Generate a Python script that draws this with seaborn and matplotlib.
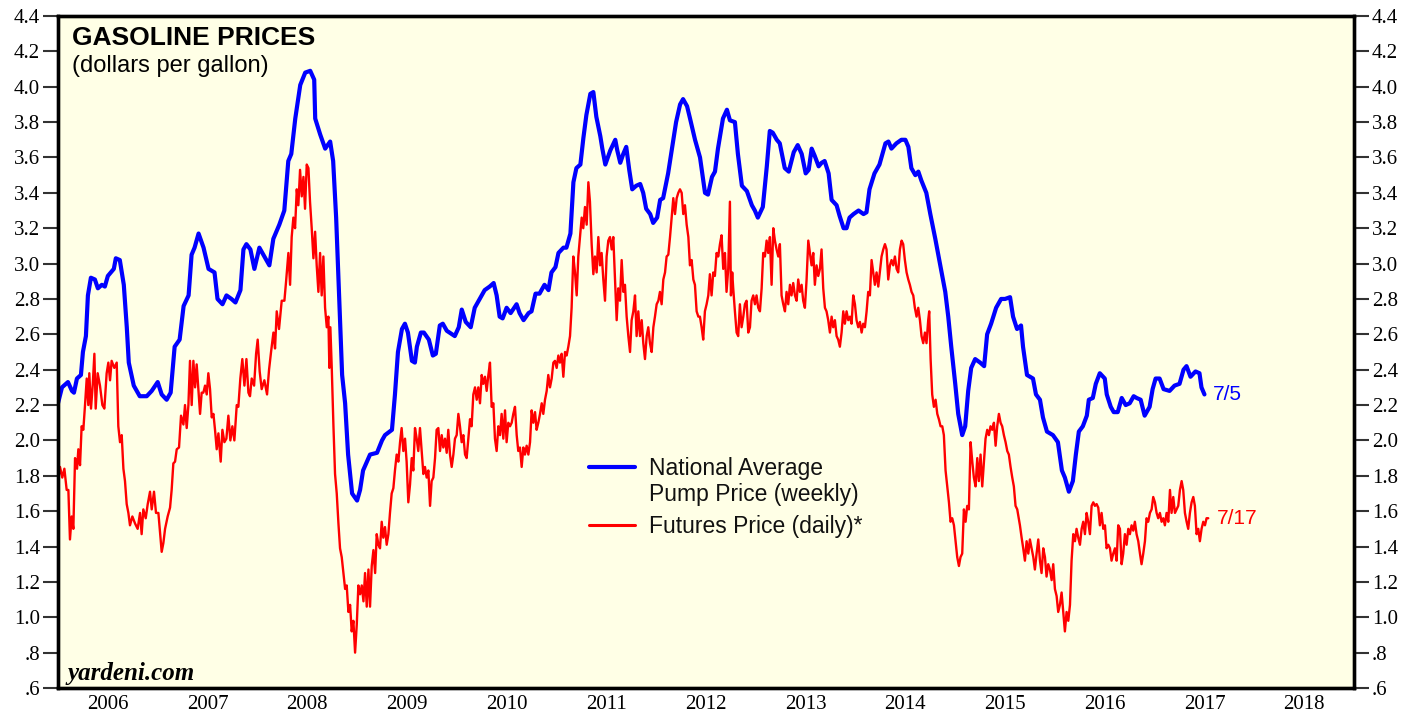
import numpy as np
import pandas as pd
import matplotlib
matplotlib.use("Agg")
import matplotlib.pyplot as plt
import seaborn as sns

# Weekly national average pump price (decimal year, $/gal)
pump_dates = [
    2006.00, 2006.04, 2006.10, 2006.14, 2006.16, 2006.19, 2006.23, 2006.25, 2006.28, 2006.30,
    2006.33, 2006.37, 2006.40, 2006.44, 2006.47, 2006.50, 2006.56, 2006.58, 2006.62, 2006.66,
    2006.69, 2006.71, 2006.76, 2006.82, 2006.89, 2006.94, 2007.00, 2007.04, 2007.09, 2007.13,
    2007.17, 2007.22, 2007.26, 2007.31, 2007.34, 2007.37, 2007.41, 2007.46, 2007.51, 2007.57,
    2007.60, 2007.65, 2007.69, 2007.74, 2007.78, 2007.83, 2007.86, 2007.89, 2007.93, 2007.97,
    2008.02, 2008.07, 2008.12, 2008.16, 2008.22, 2008.27, 2008.31, 2008.34, 2008.38, 2008.43,
    2008.48, 2008.53, 2008.57, 2008.58, 2008.63, 2008.68, 2008.73, 2008.76, 2008.79, 2008.82,
    2008.85, 2008.88, 2008.91, 2008.95, 2009.00, 2009.03, 2009.06, 2009.13, 2009.20, 2009.25,
    2009.28, 2009.35, 2009.38, 2009.41, 2009.45, 2009.48, 2009.51, 2009.55, 2009.58, 2009.60,
    2009.64, 2009.67, 2009.72, 2009.76, 2009.79, 2009.83, 2009.86, 2009.90, 2009.98, 2010.02,
    2010.05, 2010.09, 2010.14, 2010.18, 2010.23, 2010.28, 2010.33, 2010.37, 2010.40, 2010.43,
    2010.46, 2010.50, 2010.54, 2010.60, 2010.63, 2010.67, 2010.72, 2010.75, 2010.79, 2010.83,
    2010.88, 2010.92, 2010.95, 2010.99, 2011.02, 2011.07, 2011.10, 2011.14, 2011.17, 2011.20,
    2011.24, 2011.27, 2011.30, 2011.34, 2011.37, 2011.40, 2011.44, 2011.46, 2011.49, 2011.54,
    2011.59, 2011.61, 2011.64, 2011.67, 2011.70, 2011.73, 2011.76, 2011.80, 2011.84, 2011.87,
    2011.90, 2011.94, 2011.97, 2012.01, 2012.04, 2012.07, 2012.12, 2012.17, 2012.20, 2012.24,
    2012.27, 2012.31, 2012.34, 2012.39, 2012.44, 2012.49, 2012.52, 2012.56, 2012.59, 2012.62,
    2012.67, 2012.71, 2012.74, 2012.79, 2012.82, 2012.86, 2012.91, 2012.96, 2012.99, 2013.02,
    2013.07, 2013.11, 2013.14, 2013.17, 2013.21, 2013.24, 2013.29, 2013.33, 2013.38, 2013.42,
    2013.46, 2013.50, 2013.53, 2013.56, 2013.59, 2013.63, 2013.66, 2013.69, 2013.73, 2013.76,
    2013.81, 2013.84, 2013.88, 2013.91, 2013.94, 2013.98, 2014.03, 2014.08, 2014.11, 2014.14,
    2014.19, 2014.24, 2014.30, 2014.33, 2014.36, 2014.41, 2014.46, 2014.50, 2014.53, 2014.56,
    2014.60, 2014.63, 2014.66, 2014.71, 2014.75, 2014.80, 2014.85, 2014.90, 2014.93, 2014.96,
    2015.00, 2015.03, 2015.07, 2015.10, 2015.13, 2015.16, 2015.20, 2015.25, 2015.29, 2015.32,
    2015.36, 2015.41, 2015.46, 2015.50, 2015.55, 2015.58, 2015.62, 2015.66, 2015.68, 2015.72,
    2015.78, 2015.81, 2015.85, 2015.88, 2015.92, 2015.98, 2016.03, 2016.07, 2016.10, 2016.14,
    2016.18, 2016.21, 2016.24, 2016.28, 2016.32, 2016.34, 2016.38, 2016.41, 2016.45, 2016.50,
    2016.52, 2016.56, 2016.59, 2016.63, 2016.67, 2016.71, 2016.75, 2016.79, 2016.82, 2016.86,
    2016.90, 2016.95, 2016.98, 2017.01, 2017.05, 2017.09, 2017.15, 2017.20, 2017.25, 2017.29,
    2017.32, 2017.36, 2017.41, 2017.45, 2017.47, 2017.50,
]
pump_price = [
    2.21, 2.30, 2.33, 2.28, 2.27, 2.35, 2.37, 2.50, 2.59, 2.82,
    2.92, 2.91, 2.86, 2.88, 2.87, 2.93, 2.97, 3.03, 3.02, 2.88,
    2.64, 2.44, 2.31, 2.25, 2.25, 2.28, 2.33, 2.26, 2.23, 2.27,
    2.53, 2.57, 2.76, 2.82, 3.05, 3.09, 3.17, 3.09, 2.97, 2.95,
    2.80, 2.77, 2.82, 2.80, 2.78, 2.85, 3.08, 3.11, 3.08, 2.97,
    3.09, 3.04, 2.99, 3.14, 3.22, 3.30, 3.58, 3.62, 3.82, 4.01,
    4.08, 4.09, 4.04, 3.82, 3.73, 3.65, 3.69, 3.58, 3.26, 2.82,
    2.37, 2.21, 1.92, 1.70, 1.66, 1.72, 1.83, 1.92, 1.93, 2.00,
    2.03, 2.06, 2.26, 2.50, 2.63, 2.66, 2.61, 2.45, 2.44, 2.53,
    2.61, 2.61, 2.57, 2.48, 2.49, 2.65, 2.66, 2.62, 2.59, 2.64,
    2.74, 2.67, 2.64, 2.75, 2.80, 2.85, 2.87, 2.89, 2.82, 2.70,
    2.69, 2.75, 2.72, 2.77, 2.72, 2.68, 2.72, 2.73, 2.83, 2.83,
    2.88, 2.85, 2.95, 2.98, 3.06, 3.09, 3.09, 3.17, 3.46, 3.54,
    3.56, 3.71, 3.84, 3.96, 3.97, 3.83, 3.72, 3.65, 3.56, 3.64,
    3.70, 3.64, 3.57, 3.62, 3.66, 3.53, 3.42, 3.44, 3.45, 3.40,
    3.31, 3.28, 3.23, 3.26, 3.36, 3.37, 3.51, 3.69, 3.80, 3.90,
    3.93, 3.89, 3.82, 3.70, 3.60, 3.40, 3.39, 3.49, 3.52, 3.65,
    3.82, 3.87, 3.81, 3.80, 3.62, 3.44, 3.41, 3.33, 3.30, 3.26,
    3.32, 3.55, 3.75, 3.74, 3.70, 3.68, 3.54, 3.52, 3.63, 3.67,
    3.62, 3.51, 3.53, 3.65, 3.61, 3.55, 3.57, 3.58, 3.51, 3.36,
    3.33, 3.27, 3.20, 3.20, 3.26, 3.28, 3.30, 3.28, 3.29, 3.42,
    3.51, 3.56, 3.68, 3.69, 3.65, 3.68, 3.70, 3.70, 3.66, 3.54,
    3.50, 3.52, 3.47, 3.40, 3.28, 3.14, 2.99, 2.84, 2.70, 2.53,
    2.32, 2.15, 2.03, 2.08, 2.28, 2.41, 2.46, 2.44, 2.42, 2.60,
    2.66, 2.75, 2.80, 2.80, 2.81, 2.70, 2.63, 2.65, 2.53, 2.37,
    2.35, 2.26, 2.23, 2.13, 2.05, 2.03, 1.99, 1.83, 1.79, 1.71,
    1.77, 1.92, 2.05, 2.08, 2.14, 2.23, 2.24, 2.32, 2.38, 2.35,
    2.26, 2.19, 2.16, 2.16, 2.24, 2.20, 2.21, 2.25, 2.24, 2.23,
    2.14, 2.19, 2.29, 2.35, 2.35, 2.29, 2.28, 2.31, 2.32, 2.40,
    2.42, 2.36, 2.39, 2.38, 2.30, 2.26,
]

# Daily gasoline futures price (decimal year, $/gal)
futures_dates = [
    2006.003, 2006.020, 2006.043, 2006.064, 2006.087, 2006.104, 2006.120, 2006.137, 2006.154, 2006.171,
    2006.191, 2006.204, 2006.221, 2006.237, 2006.254, 2006.271, 2006.288, 2006.304, 2006.314, 2006.331,
    2006.348, 2006.365, 2006.378, 2006.398, 2006.421, 2006.445, 2006.465, 2006.488, 2006.505, 2006.522,
    2006.538, 2006.565, 2006.589, 2006.605, 2006.622, 2006.639, 2006.656, 2006.672, 2006.689, 2006.706,
    2006.722, 2006.746, 2006.773, 2006.799, 2006.823, 2006.839, 2006.856, 2006.880, 2006.900, 2006.923,
    2006.940, 2006.963, 2006.983, 2007.007, 2007.023, 2007.040, 2007.057, 2007.074, 2007.100, 2007.124,
    2007.140, 2007.157, 2007.174, 2007.191, 2007.214, 2007.234, 2007.258, 2007.274, 2007.291, 2007.308,
    2007.324, 2007.341, 2007.358, 2007.375, 2007.391, 2007.408, 2007.425, 2007.441, 2007.458, 2007.475,
    2007.492, 2007.508, 2007.525, 2007.542, 2007.559, 2007.575, 2007.592, 2007.609, 2007.632, 2007.649,
    2007.669, 2007.689, 2007.709, 2007.729, 2007.749, 2007.769, 2007.793, 2007.809, 2007.829, 2007.849,
    2007.870, 2007.890, 2007.910, 2007.926, 2007.943, 2007.967, 2007.987, 2008.003, 2008.023, 2008.043,
    2008.070, 2008.097, 2008.117, 2008.137, 2008.161, 2008.177, 2008.194, 2008.217, 2008.244, 2008.271,
    2008.288, 2008.311, 2008.328, 2008.344, 2008.361, 2008.378, 2008.395, 2008.411, 2008.428, 2008.445,
    2008.462, 2008.478, 2008.495, 2008.512, 2008.528, 2008.545, 2008.562, 2008.579, 2008.595, 2008.612,
    2008.629, 2008.645, 2008.662, 2008.679, 2008.696, 2008.712, 2008.722, 2008.732, 2008.746, 2008.763,
    2008.779, 2008.796, 2008.813, 2008.829, 2008.846, 2008.863, 2008.880, 2008.896, 2008.913, 2008.930,
    2008.946, 2008.963, 2008.980, 2008.997, 2009.013, 2009.030, 2009.047, 2009.064, 2009.080, 2009.097,
    2009.114, 2009.130, 2009.147, 2009.164, 2009.181, 2009.197, 2009.214,
    2009.230, 2009.247, 2009.263, 2009.280, 2009.297, 2009.314, 2009.330, 2009.347, 2009.364, 2009.380,
    2009.397, 2009.414, 2009.431, 2009.447, 2009.464, 2009.481, 2009.497, 2009.514, 2009.531, 2009.548,
    2009.564, 2009.581, 2009.598, 2009.614, 2009.631, 2009.648, 2009.665, 2009.681, 2009.698, 2009.715,
    2009.732, 2009.748, 2009.765, 2009.782, 2009.798, 2009.815, 2009.832, 2009.849, 2009.865, 2009.882,
    2009.899, 2009.915, 2009.932, 2009.949, 2009.966, 2009.982, 2009.999, 2010.016, 2010.032, 2010.049,
    2010.066, 2010.083, 2010.099, 2010.116, 2010.133, 2010.149, 2010.166, 2010.183, 2010.200, 2010.216,
    2010.233, 2010.250, 2010.266, 2010.283, 2010.300, 2010.317, 2010.333, 2010.350, 2010.367, 2010.383,
    2010.400, 2010.417, 2010.434, 2010.450, 2010.467, 2010.484, 2010.500, 2010.517, 2010.534, 2010.551,
    2010.567, 2010.584, 2010.601, 2010.617, 2010.634, 2010.651, 2010.668, 2010.684, 2010.701, 2010.718,
    2010.735, 2010.751, 2010.768, 2010.785, 2010.801, 2010.818, 2010.835, 2010.852, 2010.868, 2010.885,
    2010.902, 2010.918, 2010.935, 2010.952, 2010.969, 2010.985, 2011.002, 2011.019, 2011.035, 2011.052,
    2011.069, 2011.086, 2011.102, 2011.119, 2011.136, 2011.152, 2011.169, 2011.186, 2011.203, 2011.219,
    2011.236, 2011.253, 2011.269, 2011.286, 2011.303, 2011.320, 2011.336, 2011.353, 2011.370, 2011.386,
    2011.403, 2011.420, 2011.437, 2011.453, 2011.470, 2011.487, 2011.503, 2011.520, 2011.537, 2011.554,
    2011.570, 2011.587, 2011.604, 2011.620, 2011.637, 2011.654, 2011.671, 2011.687, 2011.704, 2011.721,
    2011.738, 2011.754, 2011.771, 2011.788, 2011.804, 2011.821, 2011.838, 2011.855, 2011.871, 2011.888,
    2011.905, 2011.921, 2011.938, 2011.955, 2011.972, 2011.988, 2012.005, 2012.022, 2012.038, 2012.055,
    2012.072, 2012.089, 2012.105, 2012.122, 2012.139, 2012.155, 2012.172, 2012.189, 2012.206, 2012.222,
    2012.239, 2012.256, 2012.272, 2012.289, 2012.306, 2012.323, 2012.339, 2012.356, 2012.373, 2012.389,
    2012.406, 2012.423,
    2012.439, 2012.456, 2012.472, 2012.489, 2012.506, 2012.523, 2012.539, 2012.556, 2012.573, 2012.589,
    2012.606, 2012.623, 2012.640, 2012.656, 2012.673, 2012.690, 2012.706, 2012.723, 2012.740, 2012.750,
    2012.763, 2012.773, 2012.790, 2012.807, 2012.823, 2012.840, 2012.857, 2012.874, 2012.890, 2012.907,
    2012.924, 2012.941, 2012.957, 2012.974, 2012.991, 2013.007, 2013.024, 2013.041, 2013.058, 2013.074,
    2013.091, 2013.108, 2013.124, 2013.141, 2013.158, 2013.175, 2013.191, 2013.208, 2013.225, 2013.241,
    2013.258, 2013.275, 2013.292, 2013.308, 2013.325, 2013.342, 2013.358, 2013.375, 2013.392, 2013.409,
    2013.425, 2013.442, 2013.459, 2013.475, 2013.492, 2013.509, 2013.526, 2013.542, 2013.559, 2013.576,
    2013.592, 2013.609, 2013.626, 2013.643, 2013.659, 2013.676, 2013.693, 2013.709, 2013.726, 2013.743,
    2013.760, 2013.776, 2013.793, 2013.810, 2013.826, 2013.843, 2013.860, 2013.877, 2013.893, 2013.910,
    2013.927, 2013.944, 2013.960, 2013.977, 2013.994, 2014.010, 2014.027, 2014.044, 2014.061, 2014.077,
    2014.094, 2014.111, 2014.127, 2014.144, 2014.161, 2014.178, 2014.194, 2014.211, 2014.228, 2014.244,
    2014.261, 2014.278, 2014.295, 2014.311, 2014.328, 2014.345, 2014.361, 2014.378, 2014.395, 2014.412,
    2014.428, 2014.445, 2014.462, 2014.478, 2014.495, 2014.512, 2014.529, 2014.545, 2014.562, 2014.579,
    2014.595, 2014.612, 2014.629, 2014.646, 2014.662, 2014.679, 2014.696, 2014.712, 2014.729, 2014.739,
    2014.753, 2014.769, 2014.786, 2014.803, 2014.820, 2014.836, 2014.853, 2014.870, 2014.886, 2014.903,
    2014.920, 2014.937, 2014.953, 2014.970, 2014.987, 2015.003, 2015.020, 2015.037, 2015.053, 2015.070,
    2015.087, 2015.104, 2015.120, 2015.137, 2015.154, 2015.171, 2015.187, 2015.204, 2015.221, 2015.237,
    2015.254, 2015.271, 2015.288, 2015.304, 2015.321, 2015.338, 2015.354, 2015.371, 2015.388, 2015.405,
    2015.421, 2015.438, 2015.455, 2015.471, 2015.488, 2015.505, 2015.522, 2015.538, 2015.555, 2015.572,
    2015.588, 2015.605, 2015.622,
    2015.649, 2015.666, 2015.682, 2015.699, 2015.716, 2015.733, 2015.749, 2015.766, 2015.783, 2015.799,
    2015.816, 2015.833, 2015.850, 2015.866, 2015.883, 2015.900, 2015.916, 2015.933, 2015.950, 2015.967,
    2015.983, 2016.000, 2016.017, 2016.033, 2016.050, 2016.067, 2016.084, 2016.100, 2016.117, 2016.134,
    2016.151, 2016.167, 2016.184, 2016.201, 2016.217, 2016.234, 2016.251, 2016.268, 2016.284, 2016.301,
    2016.318, 2016.334, 2016.351, 2016.368, 2016.385, 2016.401, 2016.418, 2016.435, 2016.451, 2016.468,
    2016.485, 2016.502, 2016.518, 2016.535, 2016.552, 2016.568, 2016.585, 2016.602, 2016.619, 2016.635,
    2016.652, 2016.669, 2016.685, 2016.702, 2016.719, 2016.736, 2016.752, 2016.769, 2016.786, 2016.802,
    2016.819, 2016.836, 2016.853, 2016.869, 2016.886, 2016.903, 2016.919, 2016.936, 2016.953, 2016.970,
    2016.986, 2017.003, 2017.020, 2017.036, 2017.053, 2017.070, 2017.087, 2017.103, 2017.120, 2017.137,
    2017.154, 2017.170, 2017.187, 2017.204, 2017.220, 2017.237, 2017.254, 2017.271, 2017.287, 2017.304,
    2017.321, 2017.337, 2017.354, 2017.371, 2017.388, 2017.404, 2017.421, 2017.438, 2017.454, 2017.471,
    2017.488, 2017.505, 2017.521, 2017.538,
]
futures_price = [
    1.78, 1.85, 1.79, 1.84, 1.72, 1.72, 1.44, 1.57, 1.50, 1.90,
    1.84, 1.95, 1.86, 2.08, 2.06, 2.20, 2.35, 2.20, 2.38, 2.18,
    2.31, 2.49, 2.18, 2.38, 2.31, 2.20, 2.18, 2.38, 2.44, 2.34,
    2.45, 2.41, 2.44, 2.08, 1.99, 2.03, 1.84, 1.77, 1.64, 1.59,
    1.52, 1.57, 1.53, 1.50, 1.59, 1.47, 1.61, 1.56, 1.64, 1.71,
    1.61, 1.71, 1.59, 1.59, 1.48, 1.37, 1.42, 1.50, 1.57, 1.62,
    1.72, 1.87, 1.88, 1.95, 1.96, 2.14, 2.09, 2.20, 2.07, 2.20,
    2.45, 2.20, 2.45, 2.30, 2.43, 2.29, 2.15, 2.27, 2.27, 2.31,
    2.26, 2.38, 2.29, 2.13, 2.15, 2.06, 1.95, 2.04, 1.88, 2.06,
    1.99, 2.01, 2.14, 2.00, 2.08, 2.00, 2.20, 2.19, 2.35, 2.46,
    2.31, 2.46, 2.27, 2.25, 2.35, 2.31, 2.49, 2.57, 2.39, 2.29,
    2.34, 2.26, 2.40, 2.50, 2.61, 2.52, 2.73, 2.63, 2.79, 2.79,
    2.90, 3.06, 2.88, 3.15, 3.26, 3.20, 3.42, 3.33, 3.53, 3.38,
    3.49, 3.31, 3.56, 3.54, 3.35, 3.20, 3.03, 3.18, 2.99, 2.84,
    3.06, 2.82, 3.04, 2.75, 2.64, 2.70, 2.41, 2.64, 2.41, 2.08,
    1.81, 1.70, 1.53, 1.39, 1.34, 1.25, 1.16, 1.18, 1.03, 1.07,
    0.92, 0.98, 0.80, 0.96, 1.18, 1.13, 1.18, 1.09, 1.25, 1.06,
    1.27, 1.06, 1.29, 1.38, 1.25, 1.47, 1.41,
    1.39, 1.54, 1.45, 1.51, 1.41, 1.47, 1.59, 1.70, 1.73, 1.83,
    1.92, 1.88, 1.99, 2.07, 1.94, 2.01, 1.88, 1.65, 1.75, 1.90,
    1.83, 2.07, 2.01, 1.94, 2.07, 1.94, 1.81, 1.85, 1.79, 1.83,
    1.63, 1.77, 1.79, 1.90, 2.06, 2.07, 1.94, 2.03, 1.96, 2.01,
    1.93, 2.06, 1.92, 1.85, 1.92, 2.01, 2.03, 2.15, 2.08, 1.99,
    2.03, 1.92, 1.90, 2.01, 2.12, 2.08, 2.26, 2.30, 2.23, 2.30,
    2.21, 2.37, 2.32, 2.36, 2.28, 2.37, 2.44, 2.19, 2.21, 2.01,
    1.94, 2.08, 2.03, 2.15, 2.01, 2.17, 1.99, 2.10, 2.08, 2.10,
    2.15, 2.19, 2.03, 1.94, 1.96, 1.85, 1.96, 1.92, 1.97, 1.92,
    1.99, 2.17, 2.10, 2.16, 2.06, 2.10, 2.15, 2.21, 2.15, 2.23,
    2.28, 2.37, 2.30, 2.35, 2.44, 2.45, 2.41, 2.48, 2.44, 2.49,
    2.36, 2.50, 2.48, 2.53, 2.59, 2.75, 3.04, 2.95, 2.82, 3.04,
    3.15, 3.26, 3.20, 3.32, 3.22, 3.46, 3.35, 3.11, 2.94, 3.04,
    2.95, 3.15, 2.99, 3.06, 2.91, 2.79, 3.04, 3.13, 3.15, 3.08,
    3.15, 2.91, 2.68, 2.86, 2.79, 3.02, 2.84, 2.88, 2.70, 2.59,
    2.50, 2.68, 2.73, 2.82, 2.59, 2.73, 2.59, 2.68, 2.55, 2.46,
    2.59, 2.64, 2.55, 2.50, 2.64, 2.70, 2.77, 2.79, 2.84, 2.77,
    2.91, 2.95, 3.04, 3.05, 3.15, 3.26, 3.37, 3.28, 3.37, 3.40,
    3.42, 3.40, 3.28, 3.33, 3.22, 3.15, 2.99, 3.02, 2.91, 2.88,
    2.73, 2.70,
    2.70, 2.64, 2.57, 2.73, 2.77, 2.82, 2.94, 2.82, 2.95, 2.93,
    3.06, 3.04, 3.11, 3.16, 2.97, 3.06, 2.84, 2.97, 3.35, 2.82,
    2.95, 2.86, 2.73, 2.61, 2.59, 2.77, 2.64, 2.70, 2.77, 2.79,
    2.61, 2.64, 2.79, 2.82, 2.77, 2.82, 2.75, 2.73, 2.86, 3.06,
    3.04, 3.13, 3.06, 3.15, 2.88, 3.20, 3.13, 3.08, 3.04, 3.11,
    2.82, 2.77, 2.73, 2.84, 2.77, 2.88, 2.82, 2.89, 2.82, 2.79,
    2.91, 2.84, 2.88, 2.79, 2.75, 2.91, 3.13, 3.06, 2.99, 3.06,
    2.88, 2.99, 2.93, 2.97, 3.08, 2.86, 2.75, 2.73, 2.68, 2.61,
    2.70, 2.64, 2.68, 2.59, 2.57, 2.53, 2.61, 2.73, 2.66, 2.73,
    2.68, 2.70, 2.66, 2.82, 2.77, 2.68, 2.64, 2.67, 2.61, 2.66,
    2.64, 2.73, 2.84, 2.82, 3.02, 2.95, 2.88, 2.95, 2.87, 2.95,
    3.04, 3.08, 3.11, 3.08, 2.91, 2.99, 3.02, 2.99, 3.04, 2.97,
    2.95, 3.08, 3.13, 3.11, 3.02, 2.95, 2.91, 2.88, 2.84, 2.82,
    2.75, 2.70, 2.75, 2.68, 2.59, 2.55, 2.61, 2.55, 2.68, 2.73,
    2.46, 2.26, 2.19, 2.23, 2.15, 2.12, 2.08, 2.08, 2.03, 1.83,
    1.74, 1.65, 1.54, 1.56, 1.52, 1.43, 1.34, 1.29, 1.34, 1.36,
    1.61, 1.54, 1.63, 1.61, 1.99, 1.88, 1.79, 1.74, 1.90, 1.77,
    1.92, 1.74, 1.88, 2.01, 2.06, 2.03, 2.08, 2.06, 2.10, 1.97,
    2.08, 2.15, 2.10, 2.08, 2.03, 1.99, 1.94, 1.92, 1.85, 1.79,
    1.74, 1.63, 1.61,
    1.52, 1.45, 1.39, 1.32, 1.43, 1.36, 1.44, 1.39, 1.34, 1.27,
    1.36, 1.44, 1.32, 1.25, 1.39, 1.34, 1.23, 1.30, 1.27, 1.21,
    1.30, 1.16, 1.12, 1.03, 1.07, 1.14, 1.03, 0.92, 1.03, 0.98,
    1.07, 1.32, 1.47, 1.43, 1.50, 1.45, 1.41, 1.50, 1.54, 1.47,
    1.59, 1.54, 1.47, 1.63, 1.65, 1.63, 1.64, 1.62, 1.52, 1.59,
    1.50, 1.52, 1.39, 1.41, 1.39, 1.32, 1.36, 1.39, 1.32, 1.52,
    1.50, 1.30, 1.36, 1.47, 1.41, 1.50, 1.47, 1.52, 1.49, 1.54,
    1.47, 1.43, 1.36, 1.30, 1.36, 1.43, 1.56, 1.54, 1.59, 1.61,
    1.68, 1.65, 1.59, 1.56, 1.59, 1.54, 1.56, 1.52, 1.59, 1.54,
    1.72, 1.59, 1.68, 1.59, 1.61, 1.63, 1.72, 1.77, 1.72, 1.59,
    1.54, 1.50, 1.59, 1.65, 1.68, 1.63, 1.47, 1.50, 1.43, 1.50,
    1.54, 1.52, 1.56, 1.56,
]

years = list(range(2006, 2020))
year_labels = [str(y) for y in range(2006, 2019)]
y_ticks = [0.6, 0.8, 1.0, 1.2, 1.4, 1.6, 1.8, 2.0, 2.2, 2.4, 2.6, 2.8,
           3.0, 3.2, 3.4, 3.6, 3.8, 4.0, 4.2, 4.4]
y_labels = ['.6', '.8'] + [f'{v:.1f}' for v in y_ticks[2:]]

pump = pd.DataFrame({'date': pump_dates, 'price': pump_price})
futures = pd.DataFrame({'date': futures_dates, 'price': futures_price})

BLUE = '#0000FF'
RED = '#FF0000'

sns.set_style("white")
plt.rcParams['font.family'] = ['Liberation Sans', 'DejaVu Sans']
plt.rcParams['text.color'] = 'black'
plt.rcParams['xtick.color'] = 'black'
plt.rcParams['ytick.color'] = 'black'

fig = plt.figure(figsize=(14.19, 7.21), dpi=100)
ax = fig.add_axes([58 / 1419, 33 / 721, 1296 / 1419, 672 / 721])
ax.set_facecolor('#FFFFE6')

sns.lineplot(data=futures, x='date', y='price', ax=ax, color=RED, lw=1.7,
             estimator=None, sort=False, legend=False)
sns.lineplot(data=pump, x='date', y='price', ax=ax, color=BLUE, lw=3.0,
             estimator=None, sort=False, legend=False,
             solid_joinstyle='round', solid_capstyle='round')

ax.set_xlim(2006, 2019)
ax.set_ylim(0.6, 4.4)
ax.set_xlabel('')
ax.set_ylabel('')

# year separators as ticks, labels centred in between
ax.set_xticks(years)
ax.set_xticklabels([])
ax.set_xticks([y + 0.5 for y in years[:-1]], minor=True)
ax.set_xticklabels(year_labels, minor=True, fontfamily='Liberation Serif', fontsize=15)
ax.tick_params(axis='x', which='major', direction='out', length=12, width=2.5, color='black')
ax.tick_params(axis='x', which='minor', length=0, pad=5)

ax.set_yticks(y_ticks)
ax.set_yticklabels(y_labels, fontfamily='Liberation Serif', fontsize=15)
ax.tick_params(axis='y', direction='out', length=11, width=1.5, color='#333333', pad=2)

ax2 = ax.twinx()
ax2.set_ylim(0.6, 4.4)
ax2.set_yticks(y_ticks)
ax2.set_yticklabels(y_labels, fontfamily='Liberation Serif', fontsize=15)
ax2.tick_params(axis='y', direction='out', length=11, width=1.5, color='#333333', pad=2)

for a in (ax, ax2):
    for s in a.spines.values():
        s.set_linewidth(2.4)
        s.set_color('black')

# legend key, blue line sits on the first text line
ax.plot([0.4097, 0.4452], [0.3289, 0.3289], transform=ax.transAxes, color=BLUE, lw=3.0)
ax.plot([0.4097, 0.4452], [0.2426, 0.2426], transform=ax.transAxes, color=RED, lw=2.2)
ax.text(0.456, 0.317, 'National Average', transform=ax.transAxes, fontsize=16.5,
        va='baseline', ha='left', color='#111111')
ax.text(0.456, 0.278, 'Pump Price (weekly)', transform=ax.transAxes, fontsize=16.5,
        va='baseline', ha='left', color='#111111')
ax.text(0.456, 0.2307, 'Futures Price (daily)*', transform=ax.transAxes, fontsize=16.5,
        va='baseline', ha='left', color='#111111')

ax.text(0.011, 0.9568, 'GASOLINE PRICES', transform=ax.transAxes, fontsize=19,
        fontweight='bold', va='baseline', ha='left', color='black')
ax.text(0.011, 0.9167, '(dollars per gallon)', transform=ax.transAxes, fontsize=17,
        va='baseline', ha='left', color='black')
ax.text(0.0077, 0.0119, 'yardeni.com', transform=ax.transAxes, fontsize=18,
        fontfamily='Liberation Serif', fontweight='bold', fontstyle='italic',
        va='baseline', ha='left', color='black')

ax.annotate('7/5', (pump_dates[-1], pump_price[-1]), xytext=(6, 0),
            textcoords='offset points', color=BLUE, fontsize=15, va='center')
ax.annotate('7/17', (futures_dates[-1], futures_price[-1]), xytext=(6, 0),
            textcoords='offset points', color=RED, fontsize=15, va='center')

fig.savefig('out.png', dpi=100, facecolor='white')
